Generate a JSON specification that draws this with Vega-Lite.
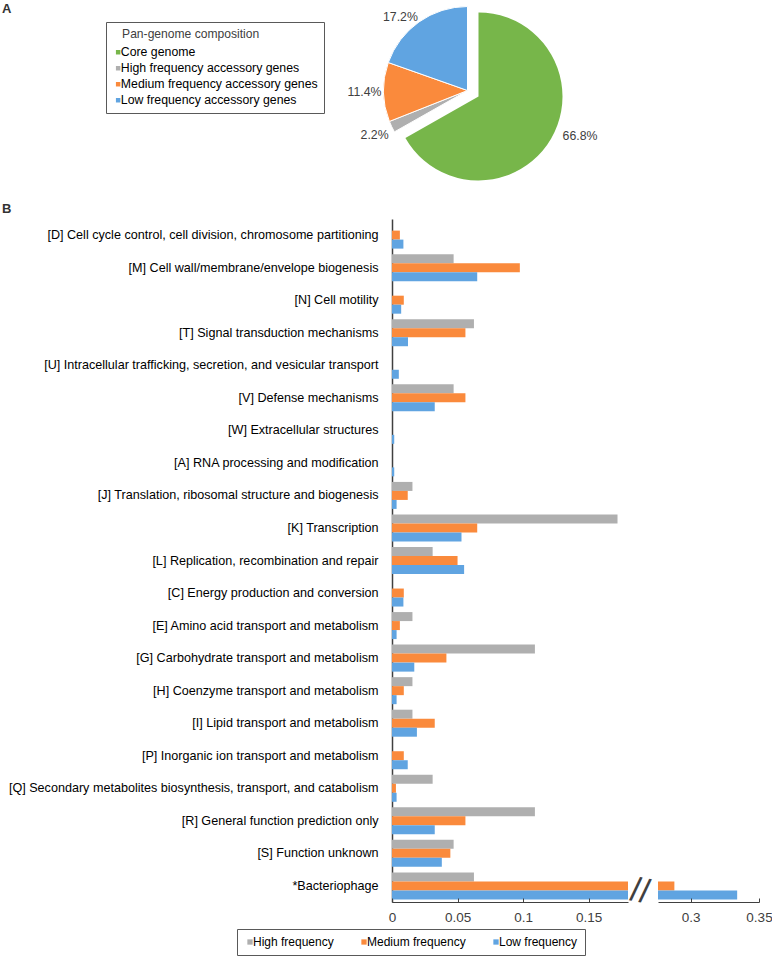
{
  "$schema": "https://vega.github.io/schema/vega-lite/v6.json",
  "padding": {"left": 2, "top": 0, "right": 0, "bottom": 3},
  "config": {"font": "Liberation Sans", "view": {"stroke": null}},
  "datasets": {
    "pie": [
      {"category": "Core genome", "share": 66.8, "label": "66.8%", "order": 1},
      {"category": "High frequency accessory genes", "share": 2.2, "label": "2.2%", "order": 2},
      {"category": "Medium frequency accessory genes", "share": 11.4, "label": "11.4%", "order": 3},
      {"category": "Low frequency accessory genes", "share": 19.6, "label": "17.2%", "order": 4}
    ],
    "cog": [
      {"cat": "[D] Cell cycle control, cell division, chromosome partitioning", "freq": "High frequency", "value": 0},
      {"cat": "[D] Cell cycle control, cell division, chromosome partitioning", "freq": "Medium frequency", "value": 0.006},
      {"cat": "[D] Cell cycle control, cell division, chromosome partitioning", "freq": "Low frequency", "value": 0.0087},
      {"cat": "[M] Cell wall/membrane/envelope biogenesis", "freq": "High frequency", "value": 0.047},
      {"cat": "[M] Cell wall/membrane/envelope biogenesis", "freq": "Medium frequency", "value": 0.0975},
      {"cat": "[M] Cell wall/membrane/envelope biogenesis", "freq": "Low frequency", "value": 0.065},
      {"cat": "[N] Cell motility", "freq": "High frequency", "value": 0},
      {"cat": "[N] Cell motility", "freq": "Medium frequency", "value": 0.009},
      {"cat": "[N] Cell motility", "freq": "Low frequency", "value": 0.007},
      {"cat": "[T] Signal transduction mechanisms", "freq": "High frequency", "value": 0.0625},
      {"cat": "[T] Signal transduction mechanisms", "freq": "Medium frequency", "value": 0.056},
      {"cat": "[T] Signal transduction mechanisms", "freq": "Low frequency", "value": 0.0122},
      {"cat": "[U] Intracellular trafficking, secretion, and vesicular transport", "freq": "High frequency", "value": 0},
      {"cat": "[U] Intracellular trafficking, secretion, and vesicular transport", "freq": "Medium frequency", "value": 0},
      {"cat": "[U] Intracellular trafficking, secretion, and vesicular transport", "freq": "Low frequency", "value": 0.0052},
      {"cat": "[V] Defense mechanisms", "freq": "High frequency", "value": 0.047},
      {"cat": "[V] Defense mechanisms", "freq": "Medium frequency", "value": 0.056},
      {"cat": "[V] Defense mechanisms", "freq": "Low frequency", "value": 0.0326},
      {"cat": "[W] Extracellular structures", "freq": "High frequency", "value": 0},
      {"cat": "[W] Extracellular structures", "freq": "Medium frequency", "value": 0},
      {"cat": "[W] Extracellular structures", "freq": "Low frequency", "value": 0.0017},
      {"cat": "[A] RNA processing and modification", "freq": "High frequency", "value": 0},
      {"cat": "[A] RNA processing and modification", "freq": "Medium frequency", "value": 0},
      {"cat": "[A] RNA processing and modification", "freq": "Low frequency", "value": 0.0017},
      {"cat": "[J] Translation, ribosomal structure and biogenesis", "freq": "High frequency", "value": 0.0156},
      {"cat": "[J] Translation, ribosomal structure and biogenesis", "freq": "Medium frequency", "value": 0.012},
      {"cat": "[J] Translation, ribosomal structure and biogenesis", "freq": "Low frequency", "value": 0.0035},
      {"cat": "[K] Transcription", "freq": "High frequency", "value": 0.172},
      {"cat": "[K] Transcription", "freq": "Medium frequency", "value": 0.065},
      {"cat": "[K] Transcription", "freq": "Low frequency", "value": 0.053},
      {"cat": "[L] Replication, recombination and repair", "freq": "High frequency", "value": 0.031},
      {"cat": "[L] Replication, recombination and repair", "freq": "Medium frequency", "value": 0.05},
      {"cat": "[L] Replication, recombination and repair", "freq": "Low frequency", "value": 0.055},
      {"cat": "[C] Energy production and conversion", "freq": "High frequency", "value": 0},
      {"cat": "[C] Energy production and conversion", "freq": "Medium frequency", "value": 0.009},
      {"cat": "[C] Energy production and conversion", "freq": "Low frequency", "value": 0.0087},
      {"cat": "[E] Amino acid transport and metabolism", "freq": "High frequency", "value": 0.0156},
      {"cat": "[E] Amino acid transport and metabolism", "freq": "Medium frequency", "value": 0.006},
      {"cat": "[E] Amino acid transport and metabolism", "freq": "Low frequency", "value": 0.0035},
      {"cat": "[G] Carbohydrate transport and metabolism", "freq": "High frequency", "value": 0.109},
      {"cat": "[G] Carbohydrate transport and metabolism", "freq": "Medium frequency", "value": 0.0415},
      {"cat": "[G] Carbohydrate transport and metabolism", "freq": "Low frequency", "value": 0.017},
      {"cat": "[H] Coenzyme transport and metabolism", "freq": "High frequency", "value": 0.0156},
      {"cat": "[H] Coenzyme transport and metabolism", "freq": "Medium frequency", "value": 0.009},
      {"cat": "[H] Coenzyme transport and metabolism", "freq": "Low frequency", "value": 0.0035},
      {"cat": "[I] Lipid transport and metabolism", "freq": "High frequency", "value": 0.0156},
      {"cat": "[I] Lipid transport and metabolism", "freq": "Medium frequency", "value": 0.0326},
      {"cat": "[I] Lipid transport and metabolism", "freq": "Low frequency", "value": 0.019},
      {"cat": "[P] Inorganic ion transport and metabolism", "freq": "High frequency", "value": 0},
      {"cat": "[P] Inorganic ion transport and metabolism", "freq": "Medium frequency", "value": 0.009},
      {"cat": "[P] Inorganic ion transport and metabolism", "freq": "Low frequency", "value": 0.012},
      {"cat": "[Q] Secondary metabolites biosynthesis, transport, and catabolism", "freq": "High frequency", "value": 0.031},
      {"cat": "[Q] Secondary metabolites biosynthesis, transport, and catabolism", "freq": "Medium frequency", "value": 0.003},
      {"cat": "[Q] Secondary metabolites biosynthesis, transport, and catabolism", "freq": "Low frequency", "value": 0.0035},
      {"cat": "[R] General function prediction only", "freq": "High frequency", "value": 0.109},
      {"cat": "[R] General function prediction only", "freq": "Medium frequency", "value": 0.056},
      {"cat": "[R] General function prediction only", "freq": "Low frequency", "value": 0.0326},
      {"cat": "[S] Function unknown", "freq": "High frequency", "value": 0.047},
      {"cat": "[S] Function unknown", "freq": "Medium frequency", "value": 0.0445},
      {"cat": "[S] Function unknown", "freq": "Low frequency", "value": 0.038},
      {"cat": "*Bacteriophage", "freq": "High frequency", "value": 0.0625},
      {"cat": "*Bacteriophage", "freq": "Medium frequency", "value": 0.288},
      {"cat": "*Bacteriophage", "freq": "Low frequency", "value": 0.334}
    ]
  },
  "vconcat": [
    {
      "width": 151,
      "height": 177,
      "title": {"text": "A", "anchor": "start", "frame": "group", "dx": -390, "fontSize": 13, "fontWeight": "bold", "color": "#333333", "offset": -16},
      "data": {"name": "pie"},
      "encoding": {
        "theta": {"field": "share", "type": "quantitative", "stack": true},
        "order": {"field": "order", "type": "quantitative"},
        "color": {
          "field": "category",
          "type": "nominal",
          "scale": {
            "domain": ["Core genome", "High frequency accessory genes", "Medium frequency accessory genes", "Low frequency accessory genes"],
            "range": ["#77B64A", "#AFAFAF", "#FA8A3C", "#60A4E1"]
          },
          "legend": {
            "orient": "none",
            "legendX": -286,
            "legendY": 20,
            "title": "\u200b\u00a0\u00a0\u00a0Pan-genome composition",
            "titleFontSize": 12.1,
            "titleFontWeight": "normal",
            "titleColor": "#404040",
            "titlePadding": 6,
            "labelFontSize": 12.3,
            "labelColor": "#000000",
            "labelOffset": -3.5,
            "labelLimit": 400,
            "symbolType": "square",
            "symbolSize": 20,
            "symbolStrokeWidth": 0,
            "rowPadding": 3,
            "strokeColor": "#595959",
            "fillColor": "white",
            "padding": 6
          }
        }
      },
      "layer": [
        {
          "mark": {"type": "arc", "radius": 84, "stroke": "white", "strokeWidth": 1},
          "encoding": {"opacity": {"condition": {"test": "datum.category === 'Core genome'", "value": 0}, "value": 1}}
        },
        {
          "mark": {"type": "arc", "radius": 84, "xOffset": 11, "yOffset": 6},
          "encoding": {"opacity": {"condition": {"test": "datum.category === 'Core genome'", "value": 1}, "value": 0}}
        },
        {
          "mark": {"type": "text", "radius": 103, "fontSize": 12.3},
          "encoding": {
            "text": {"field": "label"},
            "color": {"value": "#404040"},
            "opacity": {"condition": {"test": "datum.category === 'High frequency accessory genes' || datum.category === 'Medium frequency accessory genes'", "value": 1}, "value": 0}
          }
        },
        {
          "mark": {"type": "text", "radius": 99.5, "thetaOffset": -0.124, "fontSize": 12.3},
          "encoding": {
            "text": {"field": "label"},
            "color": {"value": "#404040"},
            "opacity": {"condition": {"test": "datum.category === 'Low frequency accessory genes'", "value": 1}, "value": 0}
          }
        },
        {
          "mark": {"type": "text", "radius": 109, "thetaOffset": -0.156, "dx": 11, "dy": 6, "fontSize": 12.3},
          "encoding": {
            "text": {"field": "label"},
            "color": {"value": "#404040"},
            "opacity": {"condition": {"test": "datum.category === 'Core genome'", "value": 1}, "value": 0}
          }
        }
      ]
    },
    {
      "hconcat": [
        {
          "width": 236,
          "height": 683,
          "title": {"text": "B", "anchor": "start", "frame": "group", "dx": -390, "dy": -1, "fontSize": 13, "fontWeight": "bold", "color": "#333333", "offset": 2},
          "data": {"name": "cog"},
          "layer": [
            {
              "mark": {"type": "bar", "clip": true},
              "encoding": {
                "y": {
                  "field": "cat",
                  "type": "nominal",
                  "sort": null,
                  "scale": {"paddingInner": 0.17, "paddingOuter": 0.08},
                  "axis": {"title": null, "labelFontSize": 12.6, "labelColor": "#000000", "labelLimit": 420, "labelPadding": 14, "ticks": false, "domainColor": "#404040", "domainWidth": 1.5}
                },
                "yOffset": {"field": "freq", "type": "nominal", "sort": null, "scale": {"domain": ["High frequency", "Medium frequency", "Low frequency"]}},
                "x": {
                  "field": "value",
                  "type": "quantitative",
                  "scale": {"domain": [0, 0.176]},
                  "axis": {"title": null, "values": [0, 0.05, 0.1, 0.15], "format": "~g", "grid": false, "labelFlush": false, "labelFontSize": 13.5, "labelColor": "#404040", "domainColor": "#404040", "tickColor": "#404040", "tickSize": -4, "labelPadding": 12, "zindex": 1}
                },
                "color": {
                  "field": "freq",
                  "type": "nominal",
                  "scale": {"domain": ["High frequency", "Medium frequency", "Low frequency"], "range": ["#AFAFAF", "#FA8A3C", "#60A4E1"]},
                  "legend": {
                    "orient": "none",
                    "legendX": -155,
                    "legendY": 710,
                    "direction": "horizontal",
                    "title": null,
                    "symbolType": "square",
                    "symbolSize": 28,
                    "symbolStrokeWidth": 0,
                    "labelFontSize": 12,
                    "labelColor": "#000000",
                    "labelOffset": -3,
                    "columnPadding": 24,
                    "strokeColor": "#595959",
                    "fillColor": "white",
                    "padding": 7
                  }
                }
              }
            },
            {
              "data": {"values": [{}]},
              "mark": {"type": "text", "text": "//", "fontSize": 34, "color": "#404040", "angle": 10, "dy": 6, "clip": false},
              "encoding": {"x": {"datum": 0.19}, "y": {"datum": "*Bacteriophage"}}
            }
          ]
        },
        {
          "width": 101,
          "height": 683,
          "data": {"name": "cog"},
          "mark": {"type": "bar", "clip": true},
          "encoding": {
            "y": {"field": "cat", "type": "nominal", "sort": null, "scale": {"paddingInner": 0.17, "paddingOuter": 0.08}, "axis": null},
            "yOffset": {"field": "freq", "type": "nominal", "sort": null, "scale": {"domain": ["High frequency", "Medium frequency", "Low frequency"]}},
            "x": {
              "field": "value",
              "type": "quantitative",
              "scale": {"domain": [0.276, 0.35]},
              "axis": {"title": null, "values": [0.3, 0.35], "format": "~g", "grid": false, "labelFlush": false, "labelFontSize": 13.5, "labelColor": "#404040", "domainColor": "#404040", "tickColor": "#404040", "tickSize": -4, "labelPadding": 12, "zindex": 1}
            },
            "color": {
              "field": "freq",
              "type": "nominal",
              "scale": {"domain": ["High frequency", "Medium frequency", "Low frequency"], "range": ["#AFAFAF", "#FA8A3C", "#60A4E1"]},
              "legend": null
            }
          }
        }
      ],
      "spacing": 30,
      "bounds": "flush",
      "resolve": {"scale": {"color": "independent"}, "legend": {"color": "independent"}}
    }
  ],
  "spacing": 40,
  "bounds": "flush",
  "resolve": {"scale": {"color": "independent"}, "legend": {"color": "independent"}}
}
